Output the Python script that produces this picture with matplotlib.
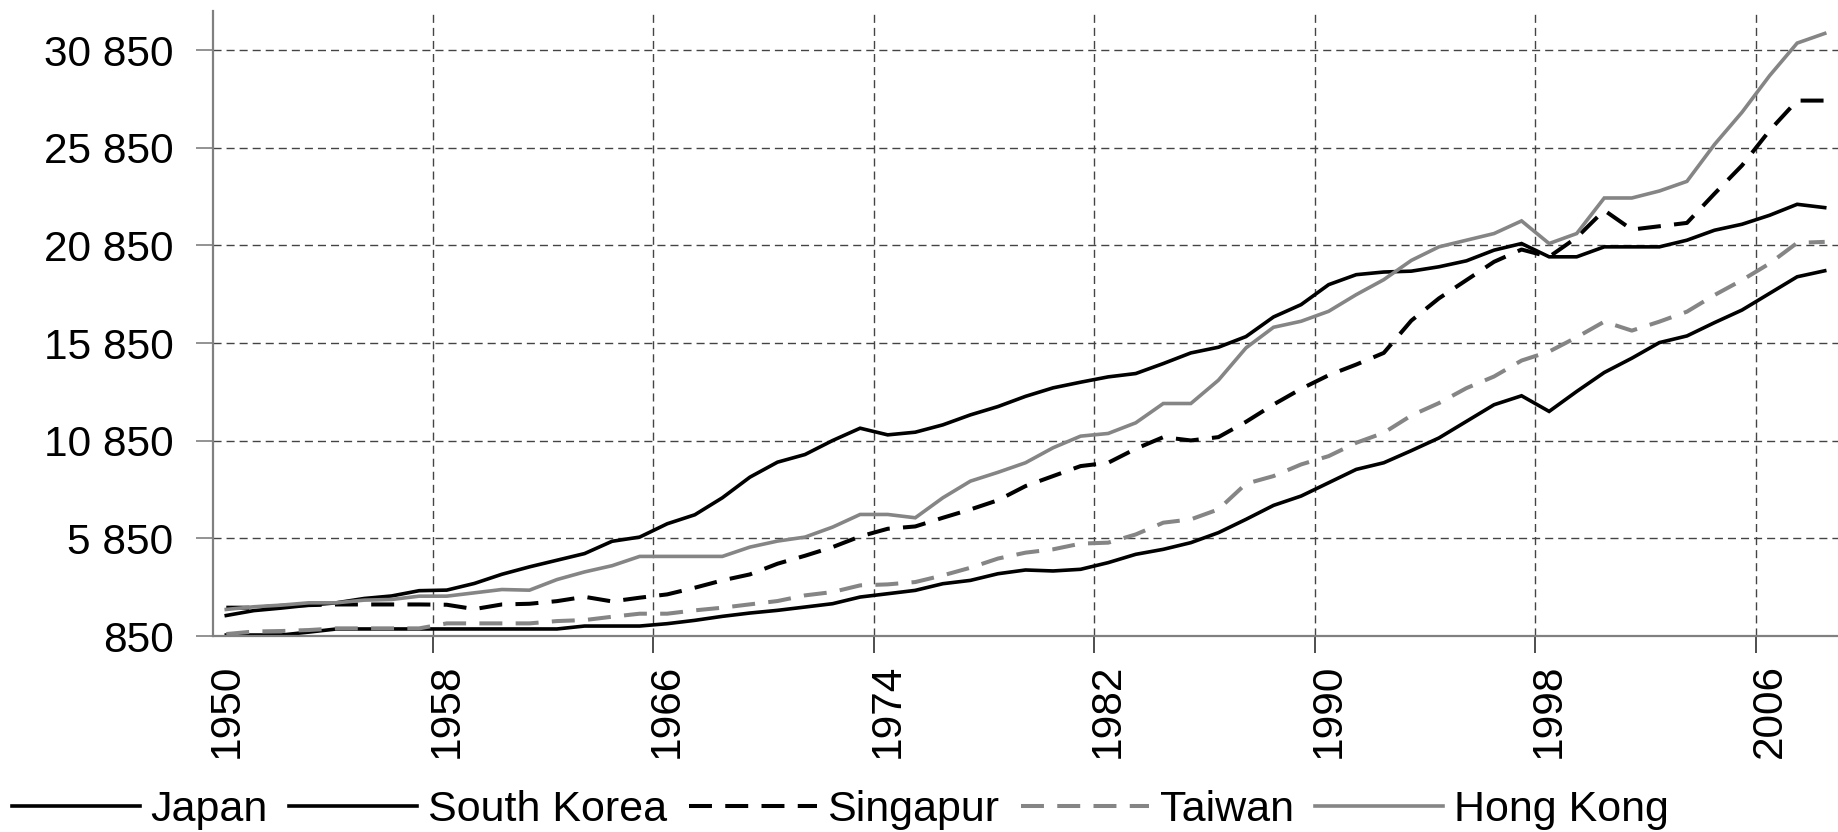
import numpy as np
import matplotlib
matplotlib.use("Agg")
import matplotlib.pyplot as plt
from matplotlib.lines import Line2D
from matplotlib.ticker import FixedLocator, FuncFormatter

plt.rcParams['font.family'] = ['Liberation Sans', 'DejaVu Sans']

# GDP per capita, 1950-2008
years = list(range(1950, 2009))

japan = [1900, 2150, 2280, 2430, 2550, 2770, 2900, 3170, 3200, 3540,
         4010, 4390, 4730, 5070, 5700, 5914, 6596, 7056, 7926, 8983,
         9750, 10142, 10858, 11489, 11148, 11285, 11660, 12171, 12597, 13120,
         13555, 13845, 14117, 14288, 14799, 15344, 15634, 16180, 17185, 17816,
         18839, 19350, 19486, 19530, 19753, 20059, 20604, 20944, 20264, 20264,
         20774, 20774, 20774, 21115, 21625, 21932, 22391, 22953, 22783]

south_korea = [900, 900, 900, 1050, 1210, 1210, 1210, 1210, 1210, 1210,
               1210, 1210, 1210, 1360, 1360, 1360, 1481, 1651, 1856, 2026,
               2163, 2333, 2504, 2845, 3015, 3186, 3527, 3697, 4038, 4230,
               4180, 4265, 4606, 5032, 5288, 5629, 6140, 6822, 7538, 8015,
               8697, 9379, 9720, 10340, 10988, 11839, 12690, 13149, 12349, 13370,
               14341, 15072, 15872, 16213, 16894, 17540, 18391, 19242, 19549]

singapur = [2300, 2300, 2397, 2431, 2465, 2465, 2465, 2465, 2450, 2227,
            2465, 2500, 2635, 2856, 2620, 2811, 2981, 3322, 3697, 4004,
            4550, 4959, 5402, 5948, 6340, 6459, 6903, 7329, 7800, 8526,
            9038, 9550, 9720, 10436, 11032, 10862, 11032, 11816, 12702, 13504,
            14202, 14748, 15344, 16998, 18136, 19072, 20008, 20638, 20264, 21251,
            22646, 21659, 21829, 22000, 23497, 24944, 26731, 28263, 28263]

taiwan = [950, 1080, 1105, 1156, 1241, 1241, 1241, 1241, 1496, 1496,
          1496, 1496, 1615, 1666, 1836, 1992, 1992, 2163, 2299, 2470,
          2640, 2930, 3101, 3442, 3493, 3612, 3953, 4345, 4815, 5117,
          5288, 5580, 5629, 6050, 6652, 6822, 7333, 8646, 9038, 9634,
          10060, 10742, 11254, 12140, 12775, 13541, 14136, 14953, 15413, 16145,
          16945, 16485, 16945, 17455, 18306, 19072, 19923, 20978, 21029]

hong_kong = [2210, 2346, 2431, 2550, 2550, 2686, 2720, 2890, 2890, 3060,
             3230, 3196, 3740, 4131, 4450, 4925, 4925, 4925, 4925, 5402,
             5709, 5914, 6425, 7073, 7073, 6903, 7926, 8778, 9230, 9720,
             10487, 11083, 11220, 11765, 12754, 12754, 13947, 15600, 16657, 16964,
             17475, 18327, 19094, 20080, 20774, 21115, 21455, 22102, 20944, 21455,
             23276, 23276, 23634, 24127, 26016, 27667, 29539, 31207, 31701]

series_names = ["Japan", "South Korea", "Singapur", "Taiwan", "Hong Kong"]
y_ticks = [850, 5850, 10850, 15850, 20850, 25850, 30850]
label_years = [1950, 1958, 1966, 1974, 1982, 1990, 1998, 2006]

BLACK = "#000000"
GREY = "#858585"
DASH = (5.7, 3.3)

styles = {
    "Japan": dict(color=BLACK, lw=2.6, ls="-"),
    "South Korea": dict(color=BLACK, lw=2.6, ls="-"),
    "Singapur": dict(color=BLACK, lw=2.9, ls=(0, DASH)),
    "Taiwan": dict(color=GREY, lw=2.9, ls=(0, DASH)),
    "Hong Kong": dict(color=GREY, lw=2.6, ls="-"),
}
data = {"Japan": japan, "South Korea": south_korea, "Singapur": singapur,
        "Taiwan": taiwan, "Hong Kong": hong_kong}

fig = plt.figure(figsize=(18.38, 8.32), dpi=100)
ax = fig.add_axes([212.5 / 1838, 196 / 832, 1626 / 1838, 625 / 832])

# categories sit between tick marks, like a spreadsheet category axis
x = np.arange(len(years)) + 0.5
for name in series_names:
    ax.plot(x, data[name], solid_joinstyle="miter", **styles[name])

ax.set_xlim(0, len(years))
ax.set_ylim(850, 32850)

# grid / tick marks on category boundaries
bounds = [years.index(y) for y in label_years if y != 1950]
ax.xaxis.set_major_locator(FixedLocator(bounds))
ax.xaxis.set_major_formatter(FuncFormatter(lambda v, p: ""))
ax.xaxis.set_minor_locator(FixedLocator([years.index(y) + 0.5 for y in label_years]))
ax.set_xticklabels([str(y) for y in label_years], minor=True, rotation=90, fontsize=30.5)
ax.tick_params(axis="x", which="major", length=12, width=1.2, color="#303030", direction="out")
ax.tick_params(axis="x", which="minor", length=0, pad=20)

ax.set_yticks(y_ticks)
ax.set_yticklabels([f"{v:,}".replace(",", " ") for v in y_ticks], fontsize=30.5)
ax.tick_params(axis="y", length=12, width=1.2, color="#808080", pad=16)

grid_kw = dict(color="#444444", linewidth=1.0, linestyle=(0, (5.8, 3.6)))
ax.grid(True, axis="both", which="major", **grid_kw)
ax.set_axisbelow(True)

for s in ["top", "right"]:
    ax.spines[s].set_visible(False)
for s in ["left", "bottom"]:
    ax.spines[s].set_color("#808080")
    ax.spines[s].set_linewidth(1.6)

handles = [Line2D([], [], **styles[n]) for n in series_names]
fig.legend(handles, series_names, loc="center left",
           bbox_to_anchor=(12 / 1838, 22 / 832), ncol=5, frameon=False,
           fontsize=31, handlelength=2.97, handletextpad=0.25,
           columnspacing=0.5, borderpad=0, borderaxespad=0)

fig.savefig("out.png", dpi=100)
